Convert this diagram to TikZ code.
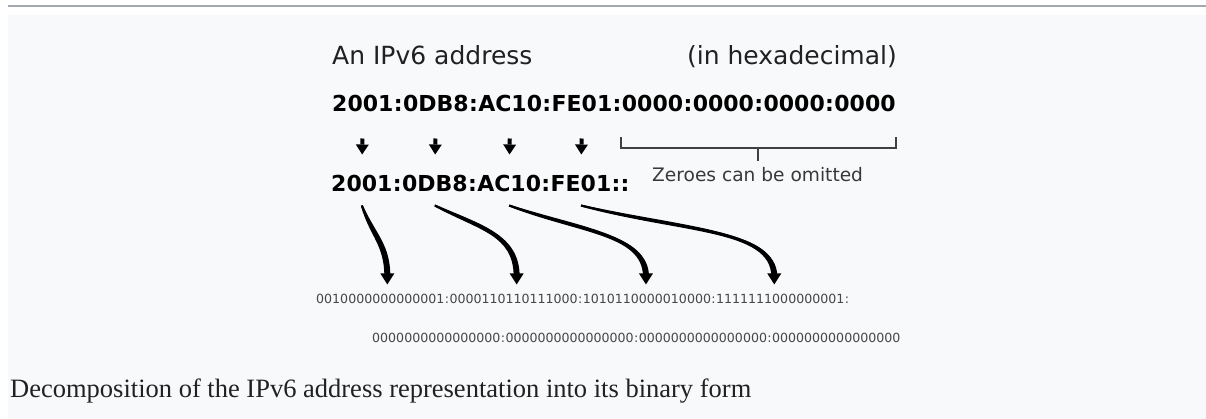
\documentclass[tikz,border=0pt]{standalone}
\usepackage{fontspec}
\newfontfamily\dejavu{DejaVu Sans}
\newfontfamily\capfont{Liberation Serif}
\usetikzlibrary{arrows.meta,calc}
\definecolor{pagebg}{HTML}{F8F9FA}
\definecolor{rulegray}{HTML}{A2A9B1}
\definecolor{txtdark}{HTML}{202122}
\begin{document}
\begin{tikzpicture}[x=1pt,y=-1pt,
  title/.style={font=\dejavu\fontsize{25}{30}\selectfont, text=txtdark, inner sep=0pt, anchor=base west},
  hex/.style={font=\dejavu\bfseries\fontsize{22}{26}\selectfont, text=black, inner sep=0pt, anchor=base west},
  bin/.style={font=\dejavu\fontsize{12.6}{15}\selectfont, text=black!72, inner sep=0pt, anchor=base west},
  note/.style={font=\dejavu\fontsize{18.6}{22}\selectfont, text=black!78, inner sep=0pt, anchor=base west},
  capt/.style={font=\capfont\fontsize{26.5}{30}\selectfont, text=txtdark, inner sep=0pt, anchor=base west},
  smallarrow/.style={line width=4pt, -{Triangle[width=13pt,length=10pt,line width=0pt]}, shorten <=26pt, shorten >=21pt},
  bigarrow/.style={line width=2pt, -{Triangle[width=14pt,length=11pt,line width=0pt]}},
  taper/.style={fill=black},
  bracket/.style={line width=1.5pt, draw=black!75}
]
\useasboundingbox (0,0) rectangle (1206,419);
\fill[white] (0,0) rectangle (1206,419);
\fill[pagebg] (8,15) rectangle (1206,419);
\fill[rulegray] (8,5) rectangle (1206,6.8);

% headings
\node[title] (t1) at (332,65) {An IPv6 address};
\node[title, anchor=base east] (t2) at (897,65) {(in hexadecimal)};

% full address
\node[hex] (a1) at (332,112) {2001};
\node[hex] (ac1) at (a1.base east) {:};
\node[hex] (a2) at (ac1.base east) {0DB8};
\node[hex] (ac2) at (a2.base east) {:};
\node[hex] (a3) at (ac2.base east) {AC10};
\node[hex] (ac3) at (a3.base east) {:};
\node[hex] (a4) at (ac3.base east) {FE01};
\node[hex] (ac4) at (a4.base east) {:};
\node[hex] (z1) at (ac4.base east) {0000};
\node[hex] (zc1) at (z1.base east) {:};
\node[hex] (z2) at (zc1.base east) {0000};
\node[hex] (zc2) at (z2.base east) {:};
\node[hex] (z3) at (zc2.base east) {0000};
\node[hex] (zc3) at (z3.base east) {:};
\node[hex] (z4) at (zc3.base east) {0000};

% short address
\node[hex] (h1) at (331,192) {2001};
\node[hex] (hc1) at (h1.base east) {:};
\node[hex] (h2) at (hc1.base east) {0DB8};
\node[hex] (hc2) at (h2.base east) {:};
\node[hex] (h3) at (hc2.base east) {AC10};
\node[hex] (hc3) at (h3.base east) {:};
\node[hex] (h4) at (hc3.base east) {FE01};
\node[hex] (hc4) at (h4.base east) {::};

% small arrows
\draw[smallarrow] (a1.south) -- (h1.north);
\draw[smallarrow] (a2.south) -- (h2.north);
\draw[smallarrow] (a3.south) -- (h3.north);
\draw[smallarrow] (a4.south) -- (h4.north);

% bracket
\draw[bracket] (621,137) -- (621,148) -- (896,148) -- (896,137);
\draw[bracket] (758,148) -- (758,161);
\node[note] (zn) at (652,182) {Zeroes can be omitted};

% binary
\node[bin] (b1) at (316,303) {0010000000000001};
\node[bin] (bc1) at (b1.base east) {:};
\node[bin] (b2) at (bc1.base east) {0000110110111000};
\node[bin] (bc2) at (b2.base east) {:};
\node[bin] (b3) at (bc2.base east) {1010110000010000};
\node[bin] (bc3) at (b3.base east) {:};
\node[bin] (b4) at (bc3.base east) {1111111000000001};
\node[bin] (bc4) at (b4.base east) {:};

\node[bin] (y1) at (372,342.5) {0000000000000000};
\node[bin] (yc1) at (y1.base east) {:};
\node[bin] (y2) at (yc1.base east) {0000000000000000};
\node[bin] (yc2) at (y2.base east) {:};
\node[bin] (y3) at (yc2.base east) {0000000000000000};
\node[bin] (yc3) at (y3.base east) {:};
\node[bin] (y4) at (yc3.base east) {0000000000000000};

% curved arrows (thin start, thick end)
\foreach \h/\b/\dx/\cx/\cy/\dy in {h1/b1/7/11/30/40, h2/b2/3/45/22/50, h3/b3/-1/70/25/50, h4/b4/-6/100/25/55}{
  \coordinate (S) at ($(\h.south)+(0,13)$);
  \coordinate (E) at ($(\b.north)+(\dx,-9)$);
  \coordinate (C1) at ($(S)+(\cx,\cy)$);
  \coordinate (C2) at ($(E)+(0,-\dy)$);
  \coordinate (Eb) at ($(E)+(0,-8)$);
  \coordinate (Sr) at ($(S)!1pt!90:(C1)$);
  \coordinate (Sl) at ($(S)!1pt!-90:(C1)$);
  \coordinate (Nr) at ($(S)!3.2pt!90:(C1)$);
  \coordinate (Nl) at ($(S)!3.2pt!-90:(C1)$);
  \coordinate (C1r) at ($(C1)+(Nr)-(S)$);
  \coordinate (C1l) at ($(C1)+(Nl)-(S)$);
  \fill[taper] (Sr) .. controls (C1r) and ($(C2)+(3,0)$) .. ($(Eb)+(3,0)$)
     -- ($(Eb)+(-3,0)$) .. controls ($(C2)+(-3,0)$) and (C1l) .. (Sl) -- cycle;
  \draw[bigarrow] (S) .. controls (C1) and (C2) .. (E);
}

% caption
\node[capt] (cap) at (10,397) {Decomposition of the IPv6 address representation into its binary form};
\end{tikzpicture}
\end{document}
